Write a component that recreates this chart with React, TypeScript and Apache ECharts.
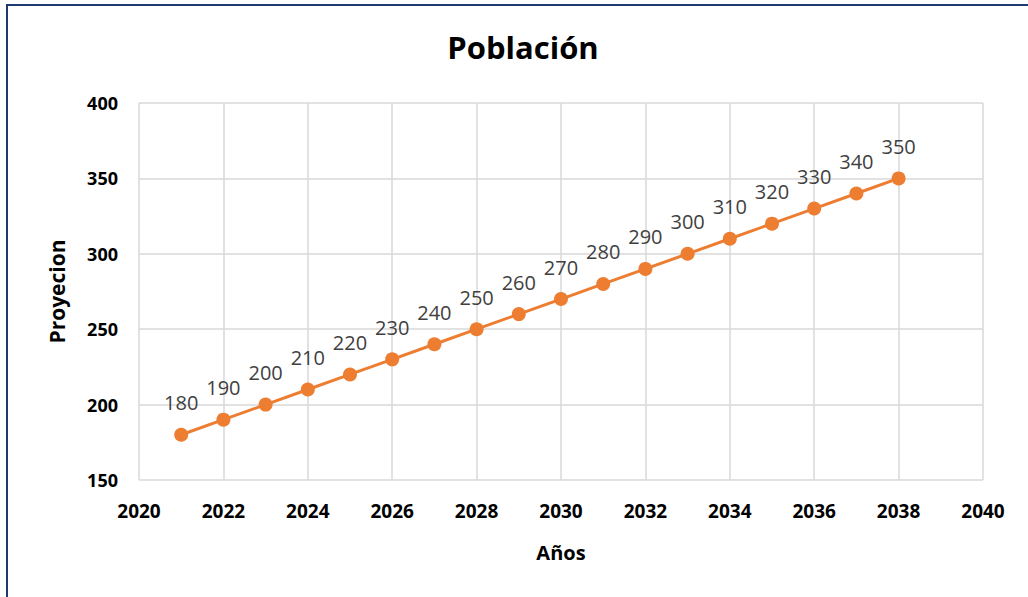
import React, { useEffect, useRef } from "react";
import * as echarts from "echarts";

const years = [2021, 2022, 2023, 2024, 2025, 2026, 2027, 2028, 2029, 2030, 2031, 2032, 2033, 2034, 2035, 2036, 2037, 2038];
const population = [180, 190, 200, 210, 220, 230, 240, 250, 260, 270, 280, 290, 300, 310, 320, 330, 340, 350];
const titleText = "Población";
const xAxisName = "Años";
const yAxisName = "Proyecion";

export default function App() {
  const ref = useRef<HTMLDivElement>(null);
  useEffect(() => {
    if (!ref.current) return;
    const chart = echarts.init(ref.current, undefined, { renderer: "svg" });
    const font = "'Open Sans', 'Liberation Sans', sans-serif";
    chart.setOption({
      animation: false,
      backgroundColor: "#ffffff",
      textStyle: { fontFamily: font },
      title: {
        text: titleText,
        left: 518,
        top: 26,
        textAlign: "center",
        textStyle: { fontFamily: font, fontSize: 31, fontWeight: "bold", color: "#000000" },
      },
      graphic: [
        {
          type: "rect",
          shape: { x: 7, y: 5, width: 1040, height: 610 },
          style: { fill: "none", stroke: "#1F3A73", lineWidth: 2 },
          silent: true,
        },
      ],
      grid: { left: 139, top: 103, right: 45, bottom: 117, containLabel: false },
      xAxis: {
        type: "value",
        min: 2020,
        max: 2040,
        interval: 2,
        name: xAxisName,
        nameLocation: "middle",
        nameGap: 62,
        nameTextStyle: { fontFamily: font, fontSize: 20, fontWeight: "bold", color: "#000" },
        axisLine: { show: false },
        axisTick: { show: false },
        axisLabel: {
          fontFamily: font,
          fontSize: 19,
          fontWeight: "bold",
          color: "#000",
          margin: 21,
          formatter: (v: number) => String(v),
        },
        splitLine: { show: true, lineStyle: { color: "#d9d9d9", width: 1.5 } },
      },
      yAxis: {
        type: "value",
        min: 150,
        max: 400,
        interval: 50,
        name: yAxisName,
        nameLocation: "middle",
        nameGap: 72,
        nameRotate: 90,
        nameTextStyle: { fontFamily: font, fontSize: 21, fontWeight: "bold", color: "#000" },
        axisLine: { show: false },
        axisTick: { show: false },
        axisLabel: { fontFamily: font, fontSize: 18, fontWeight: "bold", color: "#000", margin: 21 },
        splitLine: { show: true, lineStyle: { color: "#d9d9d9", width: 1.5 } },
      },
      series: [
        {
          type: "line",
          data: years.map((y, i) => [y, population[i]]),
          symbol: "circle",
          symbolSize: 14,
          lineStyle: { color: "#ED7D31", width: 3 },
          itemStyle: { color: "#ED7D31" },
          label: {
            show: true,
            position: "top",
            distance: 15,
            fontFamily: font,
            fontSize: 20,
            color: "#404040",
            formatter: (p: any) => String(p.value[1]),
          },
        },
      ],
    });
    return () => chart.dispose();
  }, []);
  return <div ref={ref} style={{ position: "absolute", left: 0, top: 0, width: 1028, height: 597 }} />;
}
